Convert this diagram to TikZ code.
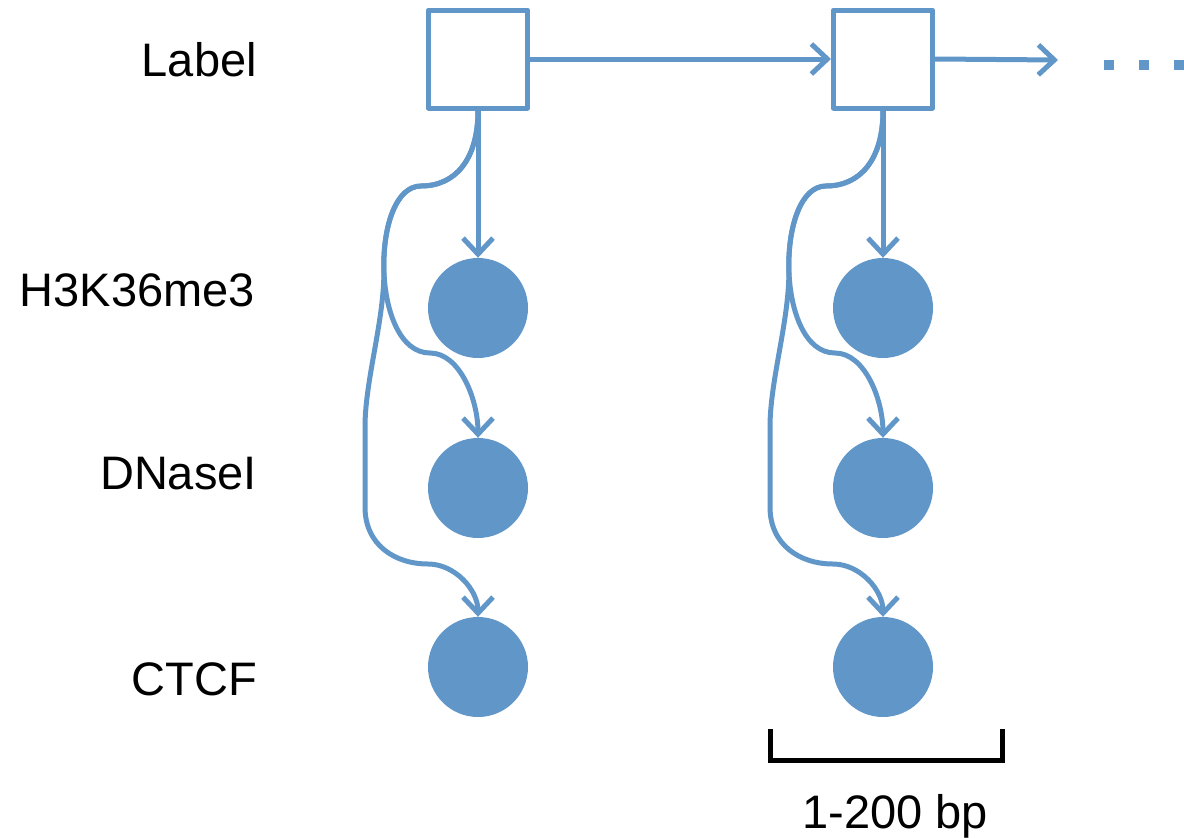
\documentclass[tikz,border=0pt]{standalone}
\usepackage{fontspec}
\setmainfont{Liberation Sans}
\usetikzlibrary{arrows.meta}
\definecolor{seqblue}{RGB}{97,150,201}
\begin{document}
\begin{tikzpicture}[x=1pt,y=-1pt,
  lbl/.style={font=\fontsize{47}{56}\selectfont, inner sep=0pt, anchor=base east},
  labelbox/.style={draw=seqblue, line width=5pt, fill=white, minimum width=99pt,
    minimum height=98pt, inner sep=0pt, line join=round},
  obs/.style={circle, fill=seqblue, minimum size=100pt, inner sep=0pt},
  link/.style={draw=seqblue, line width=5pt, line cap=round, line join=round,
    -{Straight Barb[length=16pt,width=30pt]}}]
\useasboundingbox (0,0) rectangle (1184,838);

% row labels
\node[lbl] (lab) at (257,76) {Label};
\node[lbl] (hk)  at (255,306) {H3K36me3};
\node[lbl] (dn)  at (257,489) {DNaseI};
\node[lbl] (ct)  at (257,695) {CTCF};

% one column per position: label box and three observed tracks
\foreach \c/\dx in {1/0,2/405}{
  \begin{scope}[xshift=\dx]
    \node[labelbox] (box\c) at (478,59) {};
    \node[obs] (h\c) at (478,308) {};
    \node[obs] (d\c) at (478,488) {};
    \node[obs] (t\c) at (478,667) {};
    \draw[link] (box\c.south) -- (h\c.north);
    \draw[link] (box\c.south) .. controls (478,160) and (455,186) .. (421,186)
      .. controls (370,186) and (370,353) .. (430,353)
      .. controls (460,353) and (478,400) .. (d\c.north);
    \draw[link] (box\c.south) .. controls (478,160) and (455,186) .. (421,186)
      .. controls (395.5,186) and (382.8,227.8) .. (383.9,269.5)
      .. controls (384.5,320) and (365,380) .. (365,427) -- (365,507)
      .. controls (365,545) and (395,564) .. (428,564)
      .. controls (455,564) and (478,590) .. (t\c.north);
  \end{scope}
}

% chain between positions
\draw[link] (box1.east) -- (box2.west);
\coordinate (more) at (1058,60);
\draw[link] (box2.east) -- (more);
\draw[seqblue, line width=10pt, dash pattern=on 10pt off 25pt] (1104,64.5) -- (1184,64.5);

% scale bracket
\draw[black, line width=5pt] (770,729) -- (770,760) -- (1002,760) -- (1002,729);
\node[font=\fontsize{47}{56}\selectfont, inner sep=0pt, anchor=base] (bp) at (895,828) {1-200 bp};
\end{tikzpicture}
\end{document}
